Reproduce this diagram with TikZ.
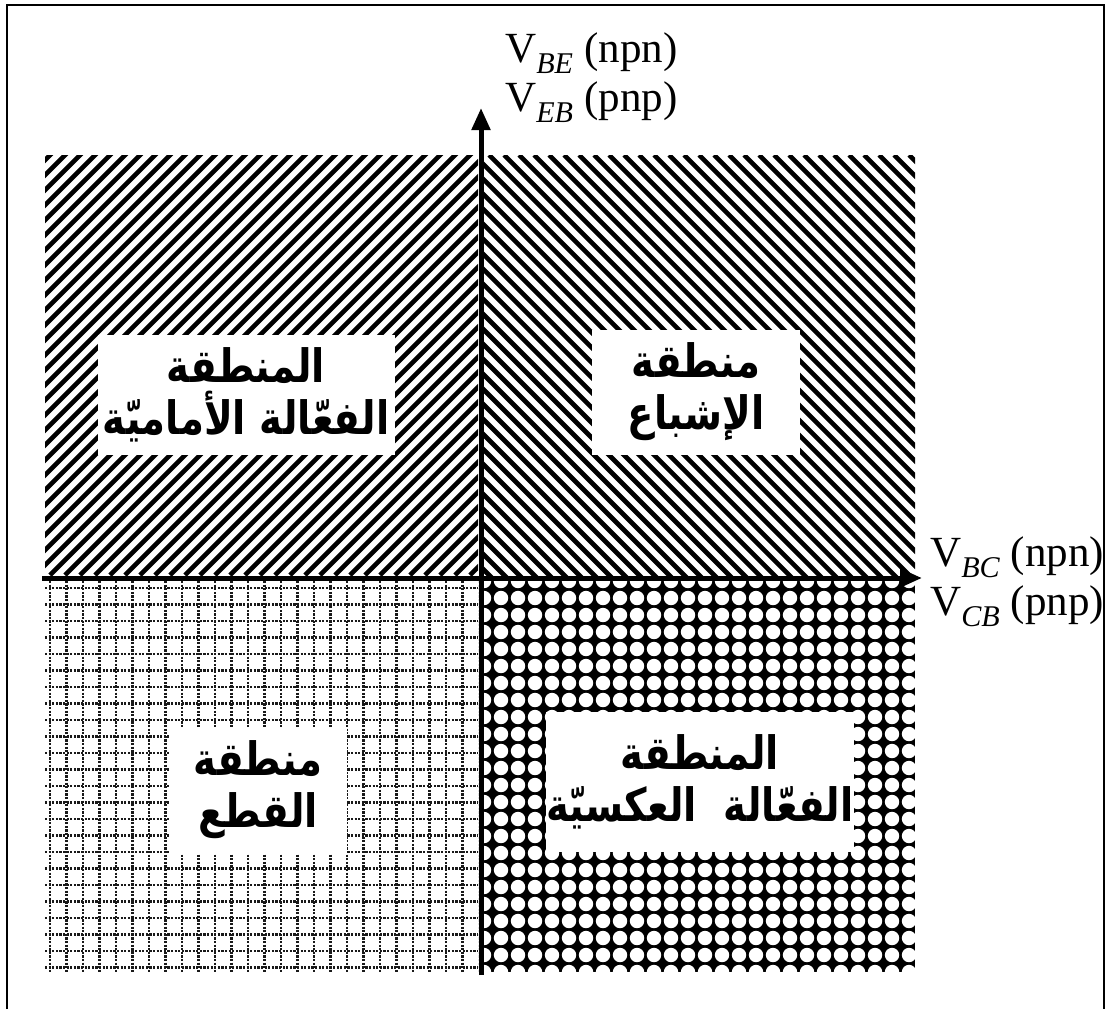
\documentclass[tikz,border=0pt]{standalone}
\usepackage{fontspec}
\setmainfont{Liberation Serif}
\newfontfamily\arabicfont[Script=Arabic, FakeStretch=0.84]{DejaVu Sans}
\TeXXeTstate=1
\usetikzlibrary{arrows.meta}

\tikzset{
  region box/.style={fill=white, inner sep=0pt, align=center,
    font=\arabicfont\bfseries\fontsize{46}{52}\selectfont},
  axis label/.style={anchor=north west, align=left, inner sep=0pt,
    font=\fontsize{43}{49}\selectfont},
  axis line/.style={line width=5pt, -{Triangle[length=22pt,width=18pt]}},
}

\begin{document}
\begin{tikzpicture}[x=1pt,y=1pt,yscale=-1,xscale=1]
\useasboundingbox (0,0) rectangle (1110,1009);

%Frame
\draw[line width=1.5pt] (7,1009) -- (7,5) -- (1104,5) -- (1104,1009);

%Pattern: forward hatching (top left)
\begin{scope}
\clip (45,155) rectangle (478,575);
\foreach \i in {0,...,60}
  \draw[line width=4.6pt] ({45+15*\i-430},575) -- ++(430,-430);
\end{scope}
%Pattern: backward hatching (top right)
\begin{scope}
\clip (484,155) rectangle (915,575);
\foreach \i in {0,...,60}
  \draw[line width=4.6pt] ({484+15*\i-430},155) -- ++(430,430);
\end{scope}
%Pattern: dotted grid (bottom left)
\begin{scope}[black!90, line width=2.2pt, dash pattern=on 2.2pt off 1.4pt]
\clip (45,581) rectangle (478,972);
\foreach \i in {0,...,26}
  \draw ({50+16.5*\i},581) -- ++(0,391);
\foreach \j in {0,...,24}
  \draw (45,{588+16.5*\j}) -- ++(433,0);
\end{scope}
%Pattern: dots (bottom right)
\begin{scope}
\clip (484,581) rectangle (915,972);
\fill (484,581) rectangle (915,972);
\foreach \i in {0,...,26}
  \foreach \j in {0,...,24}
    \fill[white] ({484+17*\i},{581+17*\j}) circle (7.2);
\end{scope}

%Region labels
\node[region box, minimum width=297, minimum height=120] (forward) at (246,395)
  {\beginR المنطقة\endR\\\beginR الفعّالة الأماميّة\endR};
\node[region box, minimum width=208, minimum height=125] (saturation) at (696,392)
  {\beginR منطقة\endR\\\beginR الإشباع\endR};
\node[region box, minimum width=178, minimum height=125] (cutoff) at (258,790)
  {\beginR منطقة\endR\\\beginR القطع\endR};
\node[region box, minimum width=295, minimum height=140] (reverse) at (700,782)
  {\beginR المنطقة\endR\\\beginR الفعّالة\ \ العكسيّة\endR};

%Axes
\coordinate (vbot) at (481,975);
\coordinate (vtop) at (481,108);
\coordinate (hleft) at (42,578);
\coordinate (hright) at (922,578);
\draw[axis line] (vbot) -- (vtop);
\draw[axis line] (hleft) -- (hright);

%Axis labels
\node[axis label] (vlabel) at (505,32)
  {V\textsubscript{\itshape BE} (npn)\\V\textsubscript{\itshape EB} (pnp)};
\node[axis label] (hlabel) at (930,536)
  {V\textsubscript{\itshape BC} (npn)\\V\textsubscript{\itshape CB} (pnp)};

\end{tikzpicture}
\end{document}
